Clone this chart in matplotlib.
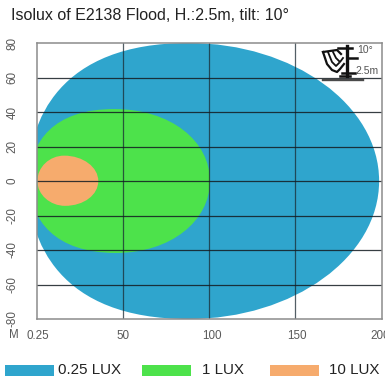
import matplotlib
matplotlib.use('Agg')
import matplotlib.pyplot as plt
from matplotlib.path import Path
from matplotlib.patches import PathPatch, Rectangle
from matplotlib.transforms import Affine2D

plt.rcParams['font.family'] = ['Liberation Sans', 'DejaVu Sans']

title = 'Isolux of E2138 Flood, H.:2.5m, tilt: 10°'
x_grid = [50, 100, 150]
x_label_pos = [0.9, 50, 101.5, 151, 199]
x_labels = ['0.25', '50', '100', '150', '200']
y_ticks = [80, 60, 40, 20, 0, -20, -40, -60, -80]
legend_names = ['0.25 LUX', '1 LUX', '10 LUX']
colors = ['#2fa5cd', '#4de24b', '#f6ab6d']

# contours as four bezier pieces: left, top, right, bottom, back to left
blue_x = [-5, -5, 13, 88, 149, 198.5, 198.5, 198.5, 149, 88, 13, -5, -5]
blue_y = [0, 35, 80, 80, 80, 44, 0, -44, -80, -80, -80, -35, 0]
green_x = [-4, -4, 10, 45, 78, 100.5, 100.5, 100.5, 78, 46, 11, -4, -4]
green_y = [0, 23, 41.7, 41.7, 41.7, 23, 0, -23, -41.7, -41.7, -41.7, -23, 0]
orange_x = [0.5, 0.5, 7.5, 16, 27, 35.8, 35.8, 35.8, 27.5, 16.5, 8, 0.5, 0.5]
orange_y = [0, 8, 14.7, 14.7, 14.7, 8, 0, -8, -14.4, -14.4, -14.4, -8, 0]


def contour(xs, ys):
    verts = list(zip(xs, ys))
    return Path(verts, [Path.MOVETO] + [Path.CURVE4] * (len(verts) - 1))


fig = plt.figure(figsize=(3.85, 3.78), dpi=100)
ax = fig.add_axes([36.5 / 385, 59 / 378, 345.2 / 385, 276 / 378])

for xs, ys, c in zip([blue_x, green_x, orange_x], [blue_y, green_y, orange_y], colors):
    ax.add_patch(PathPatch(contour(xs, ys), facecolor=c, edgecolor='none', zorder=2))

ax.set_xlim(0, 200)
ax.set_ylim(-80, 80)
ax.set_xticks(x_label_pos)
ax.set_xticklabels(x_labels)
ax.set_yticks(y_ticks)
ax.set_yticklabels([str(v) for v in y_ticks], rotation=90, va='center')
ax.tick_params(length=0, labelsize=8.4, labelcolor='#5a5a5a')
ax.tick_params(axis='x', pad=8)
ax.tick_params(axis='y', pad=13)
for s in ax.spines.values():
    s.set_color('#8c8c8c')
    s.set_linewidth(1.1)
    s.set_zorder(4)

# grid
for v in x_grid:
    ax.axvline(v, color='#1a2a33', alpha=0.75, lw=0.9, zorder=3)
for v in y_ticks[1:-1]:
    ax.axhline(v, color='#141c22', alpha=0.85, lw=0.9, zorder=3)

# everything below is placed in picture pixels
px = Affine2D().scale(1 / 385, -1 / 378).translate(0, 1) + fig.transFigure

fig.text(11, 16, title, transform=px, fontsize=11.5, color='#222222', va='center')
fig.text(9, 335, 'M', transform=px, fontsize=8.4, color='#5a5a5a', va='center')

# legend
leg_x = [4.5, 142, 270]
txt_x = [58, 201.5, 329]
for x0, tx, name, c in zip(leg_x, txt_x, legend_names, colors):
    fig.add_artist(Rectangle((x0, 365), 49, 11, transform=px, facecolor=c, edgecolor='none'))
    fig.text(tx, 370.5, name, transform=px, fontsize=10.9, color='#222222', va='center')

# lamp icon
icon_lines = [
    ([347, 347], [46, 76], 2.4),
    ([338, 352], [48, 48], 1.8),
    ([347, 357], [58, 58], 1.8),
    ([342, 355], [73, 73], 1.8),
    ([340, 350], [76, 76], 1.8),
    ([323, 363], [80.3, 80.3], 1.7),
    ([323, 337, 341], [52, 50, 54], 1.6),
    ([323, 327, 332, 337, 340, 344], [52, 64, 70, 72, 69, 64], 1.6),
    ([328, 332, 336, 339], [52, 62, 66, 63], 1.3),
    ([333, 336, 340, 343], [52, 58, 62, 58], 1.3),
]
for xs, ys, w in icon_lines:
    col = '#4a4a4a' if ys[0] > 80 else '#111111'
    fig.add_artist(plt.Line2D(xs, ys, transform=px, color=col, lw=w))
fig.text(357, 50, '10°', transform=px, fontsize=7.5, color='#555555', va='center')
fig.text(355, 71, '2.5m', transform=px, fontsize=7.5, color='#555555', va='center')

fig.savefig('out.png', dpi=100)
